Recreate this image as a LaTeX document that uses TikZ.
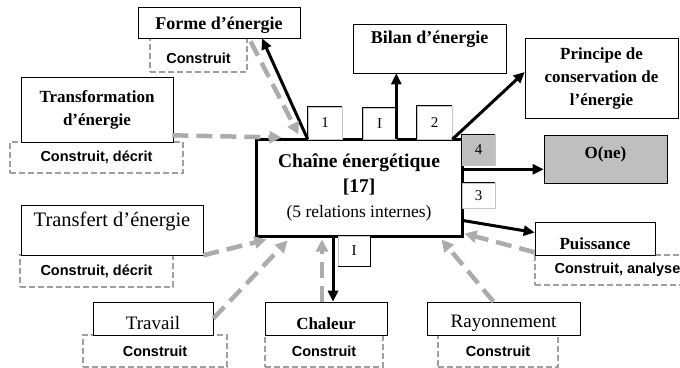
\documentclass[tikz,border=0pt]{standalone}
\usepackage{fontspec}
\setmainfont{Liberation Serif}
\setsansfont{Liberation Sans}
\usetikzlibrary{arrows.meta}
\newcommand{\fsz}[2]{\fontsize{#1}{#2}\selectfont}
\begin{document}
\begin{tikzpicture}[x=1pt,y=-1pt,
  mbox/.style={draw=black, line width=0.6pt, fill=white, inner sep=0pt, align=center,
    font=\fsz{17pt}{23pt}\rmfamily\bfseries},
  rbox/.style={mbox, font=\fsz{19pt}{23pt}\rmfamily},
  dbox/.style={draw=gray!75, line width=1.2pt, dash pattern=on 6pt off 3pt, fill=white,
    inner sep=0pt, font=\fsz{14.5pt}{17pt}\sffamily\bfseries},
  lab/.style={draw=gray!45, line width=0.6pt, fill=white, inner sep=0pt,
    font=\fsz{15pt}{17pt}\rmfamily},
  lk/.style={line width=0.8pt, draw=black},
  blk/.style={line width=3pt, -{Triangle[length=11pt,width=10pt]}},
  gry/.style={line width=4.5pt, draw=gray!65, dash pattern=on 16pt off 8pt,
    -{Triangle[length=12pt,width=12pt]}}
]
\useasboundingbox (0,0) rectangle (680,367);
\clip (0,0) rectangle (680,367);

% dashed "Construit" boxes
\node[dbox, minimum width=97pt, minimum height=34pt, text height=18pt] (formeC) at (198.5,55) {Construit};
\node[dbox, minimum width=173pt, minimum height=31pt] (transfoC) at (96.5,157.5) {Construit, décrit};
\node[dbox, minimum width=153pt, minimum height=32pt] (transfC) at (96.5,271) {Construit, décrit};
\node[dbox, minimum width=144pt, minimum height=32pt] (travailC) at (155,351) {Construit};
\node[dbox, minimum width=118pt, minimum height=32pt] (chaleurC) at (324,351) {Construit};
\node[dbox, minimum width=120pt, minimum height=32pt] (rayonC) at (498,351) {Construit};
\node[dbox, minimum width=165pt, minimum height=30pt] (puissC) at (617.5,270) {Construit, analyse};

% main boxes
\node[mbox, font=\fsz{18pt}{23pt}\rmfamily\bfseries, minimum width=162pt, minimum height=31pt, text height=18pt] (forme) at (219,22.5) {Forme d’énergie};
\node[mbox, font=\fsz{18pt}{23pt}\rmfamily\bfseries, minimum width=153pt, minimum height=49pt, text depth=22pt] (bilan) at (429.5,48.5) {Bilan d’énergie};
\node[mbox, minimum width=153pt, minimum height=80pt] (principe) at (601.5,78) {Principe de\\conservation de\\l'énergie};
\node[mbox, minimum width=152pt, minimum height=65pt] (transfo) at (97,109.5) {Transformation\\d’énergie};
\node[rbox, font=\fsz{20.5pt}{23pt}\rmfamily, minimum width=182pt, minimum height=50pt, text depth=22pt] (transf) at (112,230) {Transfert d’énergie};
\node[rbox, minimum width=120pt, minimum height=33pt, text height=22pt] (travail) at (153,318.5) {Travail};
\node[mbox, minimum width=122pt, minimum height=33pt, text height=22pt] (chaleur) at (326,318.5) {Chaleur};
\node[rbox, minimum width=153pt, minimum height=33pt, text height=22pt] (rayon) at (503.5,318.5) {Rayonnement};
\node[mbox, minimum width=120pt, minimum height=33pt, text height=22pt] (puiss) at (595,238.5) {Puissance};
\node[mbox, fill=gray!50, minimum width=123pt, minimum height=48pt, text depth=12pt] (one) at (605.5,159) {O(ne)};

\foreach \n in {forme,bilan,principe,transf,travail,chaleur,rayon,puiss,one}
  \draw[line width=1.6pt] (\n.south west) -- (\n.south east);
\draw[line width=1.6pt] (principe.north east) -- (principe.south east);

% centre box
\node[draw=black, line width=3pt, fill=white, minimum width=206pt, minimum height=97pt,
  inner sep=0pt, align=center, font=\fsz{19.5pt}{24.5pt}\rmfamily\bfseries] (cen) at (359,187.5)
  {Chaîne énergétique\\[0.5pt]
   [17]\\[0.5pt]
   {\fsz{17.5pt}{24.5pt}\mdseries (5 relations internes)}};

% number labels
\node[lab, minimum width=34pt, minimum height=32pt] (lab1) at (325,123) {1};
\node[lab, minimum width=33pt, minimum height=31pt] (labI) at (379.5,123.5) {I};
\node[lab, minimum width=35pt, minimum height=33pt] (lab2) at (434.5,122.5) {2};
\node[lab, fill=gray!50, minimum width=33pt, minimum height=30pt] (lab4) at (478.5,150) {4};
\node[lab, minimum width=33pt, minimum height=25pt] (lab3) at (478.5,195.5) {3};
\node[lab, minimum width=32pt, minimum height=30pt] (labIb) at (354,251) {I};
\foreach \n in {lab1,labI,lab2,lab4,lab3}
  \draw[lk] (\n.south west) -- (\n.north west) -- (\n.north east);
\draw[lk] (labIb.north east) -- (labIb.south east) -- (labIb.south west);

% black arrows (outputs)
\draw[blk] (lab1.south west) -- ([xshift=43pt]forme.south);
\draw[blk] (labI.south east) -- (labI.south east |- bilan.south);
\draw[blk] (lab2.south east) -- ([yshift=6pt]principe.west);
\draw[blk] ([yshift=-4pt]lab4.south west) -- ([yshift=-4pt]lab4.south west -| one.west);
\draw[blk] ([yshift=-12pt]lab3.south west) -- ([yshift=6pt]puiss.west);
\draw[blk] ([xshift=-26pt]cen.south) -- ([xshift=-26pt]cen.south |- chaleur.north);

% grey dashed arrows (inputs)
\draw[gry] ([xshift=3pt,yshift=-4pt]formeC.north east) -- ([xshift=44pt,yshift=3pt]cen.north west);
\draw[gry] ([xshift=-1pt,yshift=7pt]transfo.south east) -- ([xshift=27pt]cen.north west);
\draw[gry] (transf.south east) -- ([xshift=12pt,yshift=-2pt]cen.south west);
\draw[gry] (travail.east) -- ([xshift=33pt,yshift=-3pt]cen.south west);
\draw[gry] ([xshift=-4pt]chaleur.north) -- ([xshift=-4pt,yshift=-2pt]chaleur.north |- cen.south);
\draw[gry] ([xshift=-10pt]rayon.north) -- ([xshift=-22pt,yshift=-2pt]cen.south east);
\draw[gry] ([yshift=3pt]puiss.south west) -- ([xshift=1pt,yshift=4pt]cen.south east);
\end{tikzpicture}
\end{document}
